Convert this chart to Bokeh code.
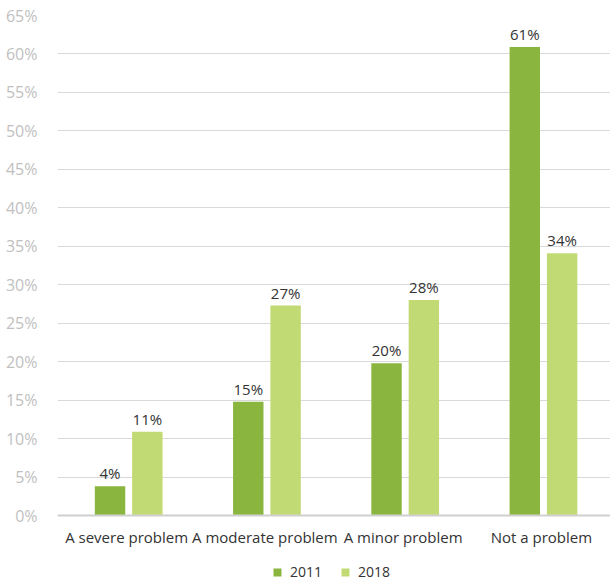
from bokeh.plotting import figure
from bokeh.models import (ColumnDataSource, FactorRange, Range1d, FixedTicker,
                          PrintfTickFormatter, Legend, LegendItem)
from bokeh.transform import dodge
from bokeh.core.properties import value
from bokeh.embed import file_html
from bokeh.resources import INLINE

categories = ["A severe problem", "A moderate problem", "A minor problem", "Not a problem"]
v2011 = [3.8, 14.8, 19.8, 60.9]
v2018 = [10.9, 27.3, 28.0, 34.1]
lab2011 = ["4%", "15%", "20%", "61%"]
lab2018 = ["11%", "27%", "28%", "34%"]
yticks = list(range(0, 70, 5))

FONT = "Open Sans"
C2011 = "#8ab640"
C2018 = "#c2da74"

src = ColumnDataSource(dict(cat=categories, a=v2011, b=v2018, la=lab2011, lb=lab2018))

# frame reaches the bottom edge; the x axis is pinned at y = 0 so that
# category labels and the legend sit inside the lower part of the frame
p = figure(x_range=FactorRange(*categories, range_padding=0), y_range=Range1d(-8.58, 65),
           width=610, height=581, output_backend="svg", toolbar_location=None,
           min_border_left=57, min_border_right=0, min_border_top=15, min_border_bottom=0)

r1 = p.vbar(x=dodge("cat", -0.12, range=p.x_range), top="a", width=0.22, source=src,
            color=C2011, line_color=None)
r2 = p.vbar(x=dodge("cat", 0.15, range=p.x_range), top="b", width=0.22, source=src,
            color=C2018, line_color=None)

for off, col, lab in [(-0.12, "a", "la"), (0.15, "b", "lb")]:
    p.text(x=dodge("cat", off, range=p.x_range), y=col, text=lab, source=src,
           text_align="center", text_baseline="bottom", y_offset=-3,
           text_font=value(FONT), text_font_size="15px", text_color="#333333")

p.outline_line_color = None
p.xgrid.grid_line_color = None
p.ygrid.grid_line_color = "#d9d9d9"
p.ygrid.grid_line_width = 1
p.yaxis.ticker = FixedTicker(ticks=yticks)
p.yaxis.formatter = PrintfTickFormatter(format="%d%%")
p.yaxis.axis_line_color = None
p.yaxis.major_tick_line_color = None
p.yaxis.minor_tick_line_color = None
p.yaxis.major_label_text_color = "#bfbfbf"
p.yaxis.major_label_text_font = FONT
p.yaxis.major_label_text_font_size = "16px"
p.yaxis.major_label_standoff = 14

p.xaxis.fixed_location = 0
p.xaxis.axis_line_color = "#d0d0d0"
p.xaxis.axis_line_width = 2
p.xaxis.major_tick_line_color = None
p.xaxis.minor_tick_line_color = None
p.xaxis.major_label_text_color = "#333333"
p.xaxis.major_label_text_font = FONT
p.xaxis.major_label_text_font_size = "15px"
p.xaxis.major_label_standoff = 5

legend = Legend(items=[LegendItem(label="2011", renderers=[r1]),
                       LegendItem(label="2018", renderers=[r2])],
                orientation="horizontal", location=(215, 0),
                border_line_color=None, background_fill_alpha=0,
                label_text_font=FONT, label_text_font_size="14px",
                label_text_color="#333333", glyph_width=10, glyph_height=10,
                label_height=14, spacing=18, label_standoff=8, padding=0, margin=0)
p.add_layout(legend, "center")

open("out.html", "w").write(file_html(p, INLINE))
